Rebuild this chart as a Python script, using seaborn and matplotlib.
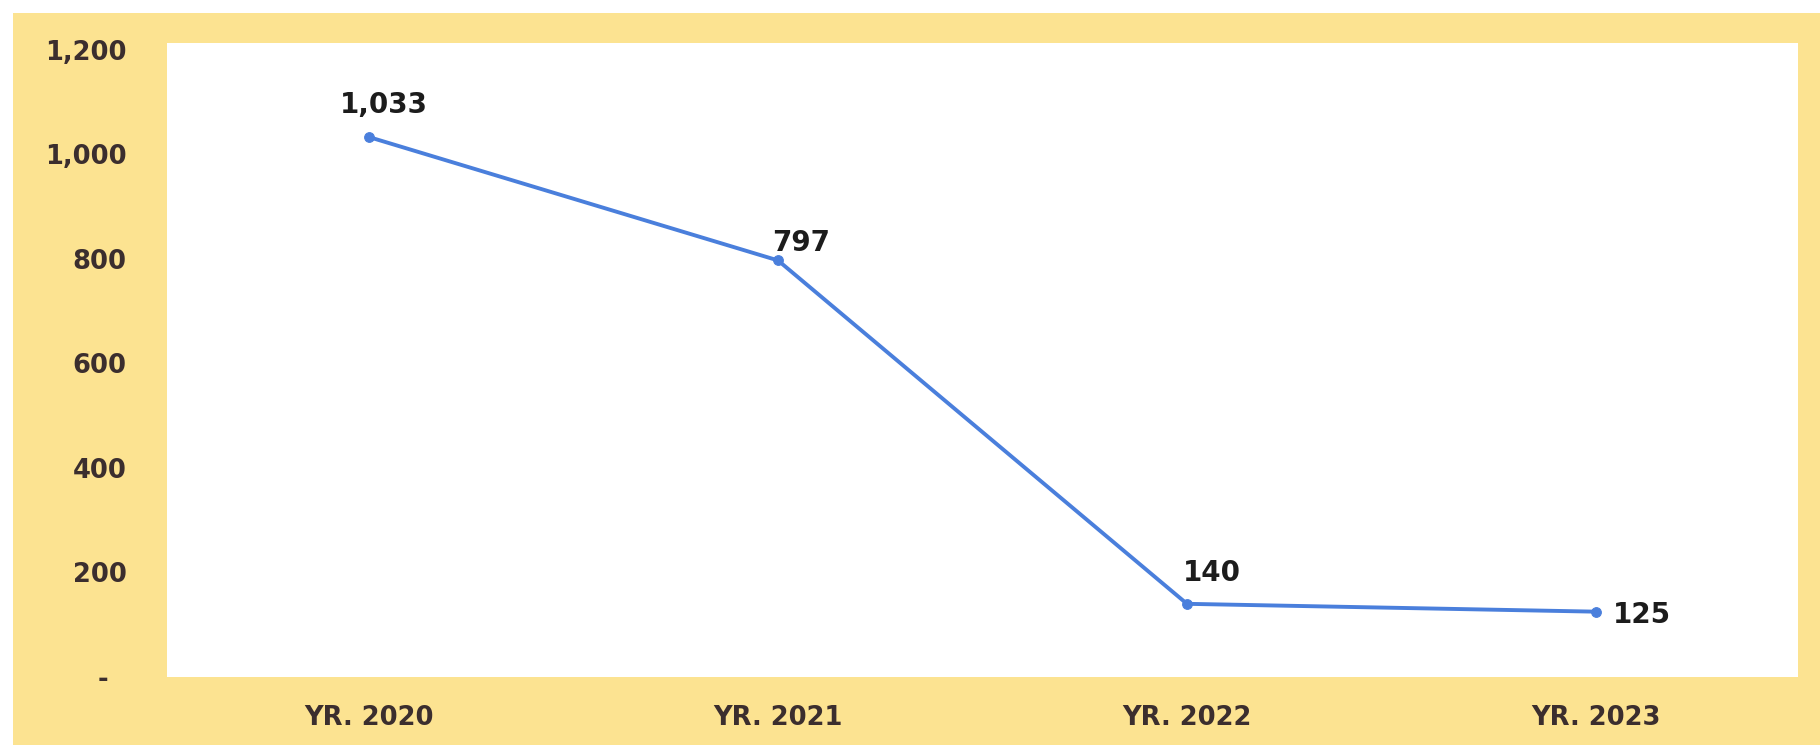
import matplotlib
matplotlib.use("Agg")
import matplotlib.pyplot as plt
import seaborn as sns
from matplotlib.patches import Rectangle
from matplotlib.ticker import FuncFormatter

years = ["YR. 2020", "YR. 2021", "YR. 2022", "YR. 2023"]
values = [1033, 797, 140, 125]
y_ticks = [0, 200, 400, 600, 800, 1000, 1200]

# label offsets in pixels (dx, dy, ha)
label_offsets = [(15, 32, "center"), (-6, 17, "left"), (25, 31, "center"), (17, -3, "left")]

sns.set_theme(style="white")
plt.rcParams["font.family"] = ["DejaVu Sans"]

fig = plt.figure(figsize=(18.2, 7.45), dpi=100, facecolor="white")
# yellow card behind the chart
fig.patches.append(Rectangle((13 / 1820, 0), 1 - 13 / 1820, 1 - 13 / 745,
                             transform=fig.transFigure, facecolor="#FCE391",
                             edgecolor="none", zorder=-10))

ax = fig.add_axes([167 / 1820, 1 - 677 / 745, (1798 - 167) / 1820, (677 - 43) / 745])
ax.set_facecolor("white")
ax.set_zorder(5)

line_color = "#4A7FDC"
sns.lineplot(x=years, y=values, ax=ax, color=line_color, linewidth=2.8,
             marker="o", markersize=7, markeredgecolor=line_color, sort=False)

for i, (yr, v) in enumerate(zip(years, values)):
    dx, dy, ha = label_offsets[i]
    ax.annotate(f"{v:,}", xy=(i, v), xytext=(dx, dy), textcoords="offset pixels",
                ha=ha, va="center", fontsize=20, fontweight="bold", color="#1c1c1c")

ax.set_xlim(-0.494, 3.494)
ax.set_ylim(0, 1213)
ax.set_yticks(y_ticks)
ax.yaxis.set_major_formatter(FuncFormatter(lambda v, p: "-  " if v == 0 else f"{int(v):,}"))
ax.tick_params(axis="y", length=0, pad=29, labelsize=18.5, labelcolor="#3b2e2e")
ax.tick_params(axis="x", length=0, pad=20, labelsize=18.5, labelcolor="#3b2e2e")
for lbl in ax.get_xticklabels() + ax.get_yticklabels():
    lbl.set_fontweight("bold")
ax.set_xlabel("")
ax.set_ylabel("")
for s in ax.spines.values():
    s.set_visible(False)

fig.savefig("out.png", dpi=100, facecolor=fig.get_facecolor())
